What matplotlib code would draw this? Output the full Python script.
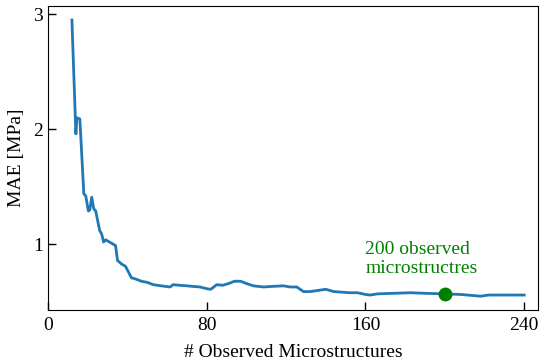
import matplotlib
matplotlib.use("Agg")
import matplotlib.pyplot as plt

# MAE vs number of observed microstructures
n_observed = [12, 14, 14.5, 16, 18, 19, 20.3, 21, 22, 23, 24, 26, 27, 28, 29, 32,
              34, 35, 37, 39, 42, 44, 47, 50, 53, 57, 61.5, 63, 66, 70, 73, 76.6,
              80, 82, 85, 88, 91, 94, 97, 100, 103.5, 108.6, 113, 118.7, 122,
              125.4, 128.7, 132, 136, 140, 144, 148, 152, 156, 160, 162.4, 166,
              174, 182.6, 190, 200, 208, 218, 222, 228, 234, 240]
mae = [2.95, 1.96, 2.10, 2.09, 1.44, 1.42, 1.29, 1.30, 1.41, 1.31, 1.29, 1.12,
       1.09, 1.02, 1.04, 1.01, 0.99, 0.86, 0.83, 0.81, 0.71, 0.70, 0.68, 0.67,
       0.65, 0.64, 0.63, 0.65, 0.645, 0.64, 0.635, 0.63, 0.615, 0.61, 0.65,
       0.645, 0.66, 0.68, 0.68, 0.66, 0.64, 0.63, 0.635, 0.64, 0.63, 0.63,
       0.59, 0.59, 0.60, 0.61, 0.59, 0.585, 0.58, 0.58, 0.565, 0.56, 0.57,
       0.575, 0.58, 0.575, 0.57, 0.565, 0.55, 0.56, 0.56, 0.56, 0.56]

highlight_x = 200
highlight_y = 0.57
highlight_text = "200 observed\nmicrostructres"

xticks = [0, 80, 160, 240]
yticks = [1, 2, 3]

plt.rcParams['font.family'] = ['Liberation Serif', 'DejaVu Serif']
plt.rcParams['font.size'] = 14

fig = plt.figure(figsize=(5.53, 3.63), dpi=100)
ax = fig.add_axes([0.087, 0.146, 0.886, 0.837])

ax.plot(n_observed, mae, color='#1f77b4', linewidth=2)
ax.plot(highlight_x, highlight_y, 'o', color='green', markersize=9, zorder=3)
ax.text(160, 0.72, highlight_text, color='green', ha='left', va='bottom',
        linespacing=1.15)

ax.set_xlim(0, 247)
ax.set_ylim(0.43, 3.07)
ax.set_xticks(xticks)
ax.set_yticks(yticks)
ax.tick_params(direction='in', length=6, width=1)
ax.tick_params(axis='x', pad=5)
ax.set_xlabel("# Observed Microstructures", labelpad=7)
ax.set_ylabel("MAE [MPa]", labelpad=6)

fig.savefig("out.png", dpi=100)
